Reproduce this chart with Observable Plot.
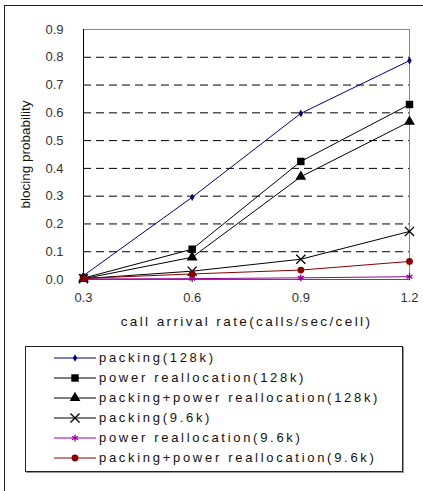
<!DOCTYPE html>
<html><head><meta charset="utf-8">
<script src="https://cdn.jsdelivr.net/npm/d3@7"></script>
<script src="https://cdn.jsdelivr.net/npm/@observablehq/plot@0.6"></script>
<style>
body{margin:0;background:#fff;width:423px;height:491px;overflow:hidden;position:relative;font-family:"Liberation Sans",Arial,sans-serif}
#frame{position:absolute;left:4px;top:5px;width:600px;height:700px;border-left:1px solid #222;border-top:1px solid #222}
#chart{position:absolute;left:0;top:0}
#legend{position:absolute;left:25px;top:346px;width:376px;height:124px;border:1px solid #222;box-shadow:1px 1px 0 #999;background:#fff}
.item{position:absolute;left:0;height:20px;width:376px}
.item svg{position:absolute;left:27px;top:0}
.item span{position:absolute;left:73px;top:2px;font-size:13px;letter-spacing:2.7px;color:#111;white-space:nowrap}
</style></head>
<body>
<div id="frame"></div>
<div id="chart"></div>
<div id="legend"></div>
<script>
const xValues = [0.3, 0.6, 0.9, 1.2];
const yTicks = [0, 0.1, 0.2, 0.3, 0.4, 0.5, 0.6, 0.7, 0.8, 0.9];
const gridTicks = [0.1, 0.2, 0.3, 0.4, 0.5, 0.6, 0.7, 0.8];
const seriesNames = ["packing(128k)", "power reallocation(128k)", "packing+power reallocation(128k)", "packing(9.6k)", "power reallocation(9.6k)", "packing+power reallocation(9.6k)"];
const packing128 = [0.014, 0.296, 0.598, 0.788];
const power128 = [0.005, 0.109, 0.425, 0.630];
const both128 = [0.003, 0.080, 0.370, 0.568];
const packing96 = [0.003, 0.030, 0.073, 0.173];
const power96 = [0.002, 0.003, 0.006, 0.010];
const both96 = [0.004, 0.020, 0.034, 0.065];
const seriesValues = [packing128, power128, both128, packing96, power96, both96];
const seriesColors = ["#000080", "#000000", "#000000", "#000000", "#990099", "#8b0000"];
const seriesSymbols = ["diamond", "square", "triangle", "times", "asterisk", "circle"];
const seriesRadius = [2.3, 4.2, 4.0, 4.2, 3.2, 3.4];
const seriesFilled = [true, true, true, false, false, true];

const rows = [];
seriesNames.forEach((name, i) => {
  xValues.forEach((x, j) => rows.push({series: name, i, x, y: seriesValues[i][j]}));
});

const chart = Plot.plot({
  width: 423,
  height: 335,
  marginLeft: 83,
  marginRight: 14,
  marginTop: 29,
  marginBottom: 56,
  style: {fontFamily: '"Liberation Sans", Arial, sans-serif', fontSize: "13px", background: "transparent", color: "#333"},
  x: {domain: [0.3, 1.2]},
  y: {domain: [0, 0.9]},
  color: {domain: seriesNames, range: seriesColors},
  symbol: {domain: seriesNames, range: seriesSymbols},
  marks: [
    Plot.ruleY(gridTicks, {stroke: "#000", strokeDasharray: "8,5", strokeWidth: 1}),
    Plot.ruleY([0.9], {stroke: "#888"}),
    Plot.ruleX([1.2], {stroke: "#888"}),
    Plot.ruleY([0], {stroke: "#555"}),
    Plot.ruleX([0.3], {stroke: "#000"}),
    Plot.axisY(yTicks, {tickSize: 0, tickPadding: 20, tickFormat: d3.format(".1f"), label: "blocing probability", labelAnchor: "center", labelArrow: "none", labelOffset: 63, fontSize: 13}),
    Plot.axisX(xValues, {tickSize: 0, tickPadding: 13, tickFormat: d3.format(".1f"), label: "call arrival rate(calls/sec/cell)", labelAnchor: "center", labelArrow: "none", labelOffset: 46, fontSize: 13}),
    Plot.line(rows, {x: "x", y: "y", z: "series", stroke: "series", strokeWidth: 1}),
    ...seriesNames.map((name, i) => Plot.dot(rows.filter(d => d.i === i), {
      x: "x", y: "y", symbol: "series", r: seriesRadius[i],
      fill: seriesFilled[i] ? "series" : "none",
      stroke: seriesFilled[i] ? "none" : "series",
      strokeWidth: 1.3
    }))
  ]
});
document.getElementById("chart").appendChild(chart);
chart.querySelectorAll('g[aria-label="x-axis label"] text').forEach(t => { t.style.letterSpacing = "2.4px"; t.style.fontSize = "13.5px"; t.style.fill = "#111"; });
chart.querySelectorAll('g[aria-label="y-axis label"] text').forEach(t => { t.style.fontSize = "13.5px"; t.style.fill = "#111"; });

const symbolMap = {diamond: d3.symbolDiamond, square: d3.symbolSquare, triangle: d3.symbolTriangle, times: d3.symbolTimes, asterisk: d3.symbolAsterisk, circle: d3.symbolCircle};
const legend = d3.select("#legend");
seriesNames.forEach((name, i) => {
  const item = legend.append("div").attr("class", "item").style("top", (1 + i * 20) + "px");
  const svg = item.append("svg").attr("width", 44).attr("height", 20);
  svg.append("line").attr("x1", 1).attr("x2", 43).attr("y1", 10).attr("y2", 10).attr("stroke", seriesColors[i]).attr("stroke-width", 1);
  svg.append("path")
    .attr("transform", "translate(22,10)")
    .attr("d", d3.symbol(symbolMap[seriesSymbols[i]], seriesRadius[i] * seriesRadius[i] * Math.PI)())
    .attr("fill", seriesFilled[i] ? seriesColors[i] : "none")
    .attr("stroke", seriesFilled[i] ? "none" : seriesColors[i])
    .attr("stroke-width", 1.3);
  item.append("span").text(name);
});
</script>
</body></html>
